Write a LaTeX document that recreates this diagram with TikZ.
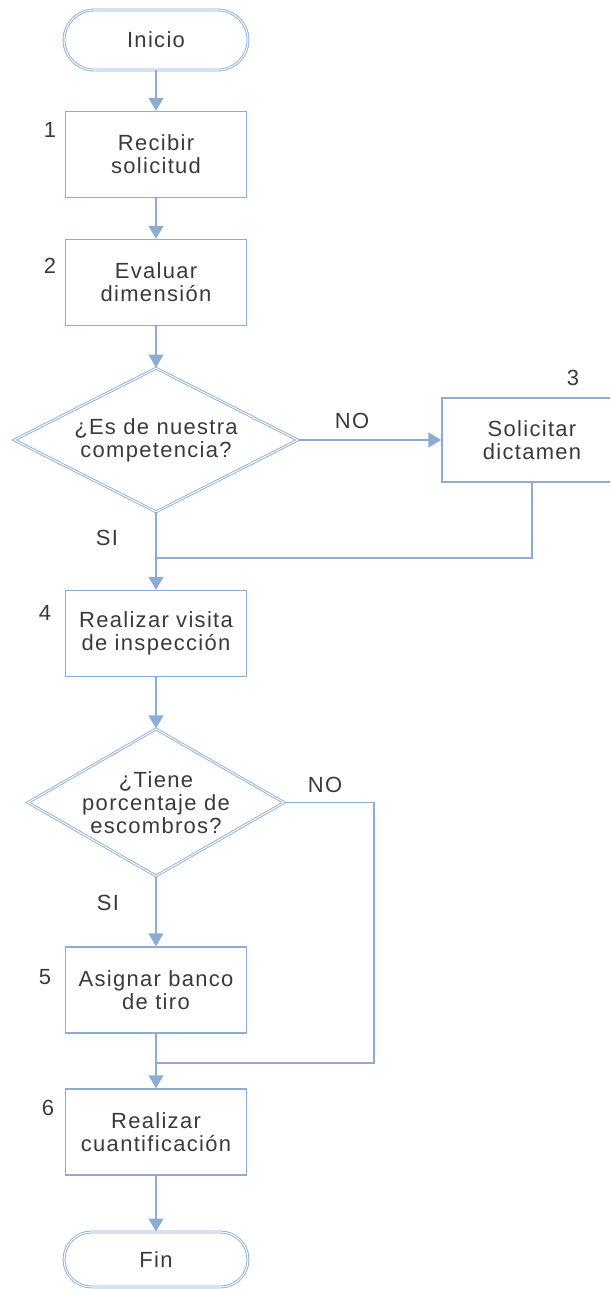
\documentclass[tikz,border=0pt]{standalone}
\usepackage{fontspec}
\setmainfont[LetterSpace=6]{Liberation Sans}
\usetikzlibrary{shapes.geometric}
\usetikzlibrary{arrows.meta}
\definecolor{flwln}{RGB}{140,172,212}
\definecolor{flwtx}{RGB}{58,58,58}
\newcommand{\bxw}{3.62cm}
\newcommand{\bxh}{1.72cm}
\newcommand{\trmw}{3.68cm}
\newcommand{\trmh}{1.2cm}
\newcommand{\colx}{156}

\begin{document}
\begin{tikzpicture}[x=0.02cm,y=-0.02cm,
    every node/.style={font=\fontsize{12.5}{13.2}\selectfont,text=flwtx},
    bx/.style={draw=flwln,line width=0.8pt,minimum width=\bxw,
      minimum height=\bxh,align=center,inner sep=0pt},
    trm/.style={draw=flwln,line width=0.5pt,double=white,
      double distance=0.6pt,rounded corners=0.6cm,
      minimum width=\trmw,minimum height=\trmh},
    dcs/.style={diamond,draw=flwln,line width=0.5pt,double=white,
      double distance=0.6pt,aspect=2,inner sep=0pt,align=center},
    arr/.style={draw=flwln,line width=0.9pt,
      -{Triangle[width=0.3cm,length=0.26cm]}},
    lnk/.style={draw=flwln,line width=0.9pt}]
    \clip (0,0) rectangle (610,1289);

    \node[trm] (ini) at (\colx,40) {Inicio};
    \node[bx] (rcb) at (\colx,154.5) {Recibir\\solicitud};
    \node[bx] (evl) at (\colx,282.5) {Evaluar\\dimensión};
    \node[dcs,minimum width=5.68cm,minimum height=2.88cm] (cmp)
      at (\colx,440) {¿Es de nuestra\\competencia?};
    \node[bx,minimum width=3.6cm,minimum height=1.68cm] (sol)
      at (532,440) {Solicitar\\dictamen};
    \node[bx] (vis) at (\colx,633.5) {Realizar visita\\de inspección};
    \node[dcs,aspect=1.74,minimum width=5.04cm,minimum height=2.9cm] (esc)
      at (\colx,802.5) {¿Tiene\\porcentaje de\\escombros?};
    \node[bx] (ban) at (\colx,990) {Asignar banco\\de tiro};
    \node[bx] (cua) at (\colx,1132) {Realizar\\cuantificación};
    \node[trm,minimum height=1.1cm,rounded corners=0.55cm] (fin)
      at (\colx,1259.5) {Fin};

    \node (nra) at (50,130) {1};
    \node (nrb) at (50,266) {2};
    \node (nrc) at (573,378) {3};
    \node (nrd) at (45,613) {4};
    \node (nre) at (45,977) {5};
    \node (nrf) at (48,1108) {6};

    \node (noa) at (352,421) {NO};
    \node (sia) at (107,538) {SI};
    \node (nob) at (325,785) {NO};
    \node (sib) at (108,903) {SI};

    \coordinate (jna) at (\colx,558);
    \coordinate (jnb) at (\colx,1063);
    \coordinate (crb) at (374,1063);

    \draw[arr] (ini) -- (rcb);
    \draw[arr] (rcb) -- (evl);
    \draw[arr] (evl) -- (cmp);
    \draw[arr] (cmp) -- (sol);
    \draw[arr] (cmp) -- (vis);
    \draw[lnk] (sol.south) |- (jna);
    \draw[arr] (vis) -- (esc);
    \draw[arr] (esc) -- (ban);
    \draw[lnk] (esc.east) -| (crb) -- (jnb);
    \draw[arr] (ban) -- (cua);
    \draw[arr] (cua) -- (fin);
  \end{tikzpicture}
\end{document}
